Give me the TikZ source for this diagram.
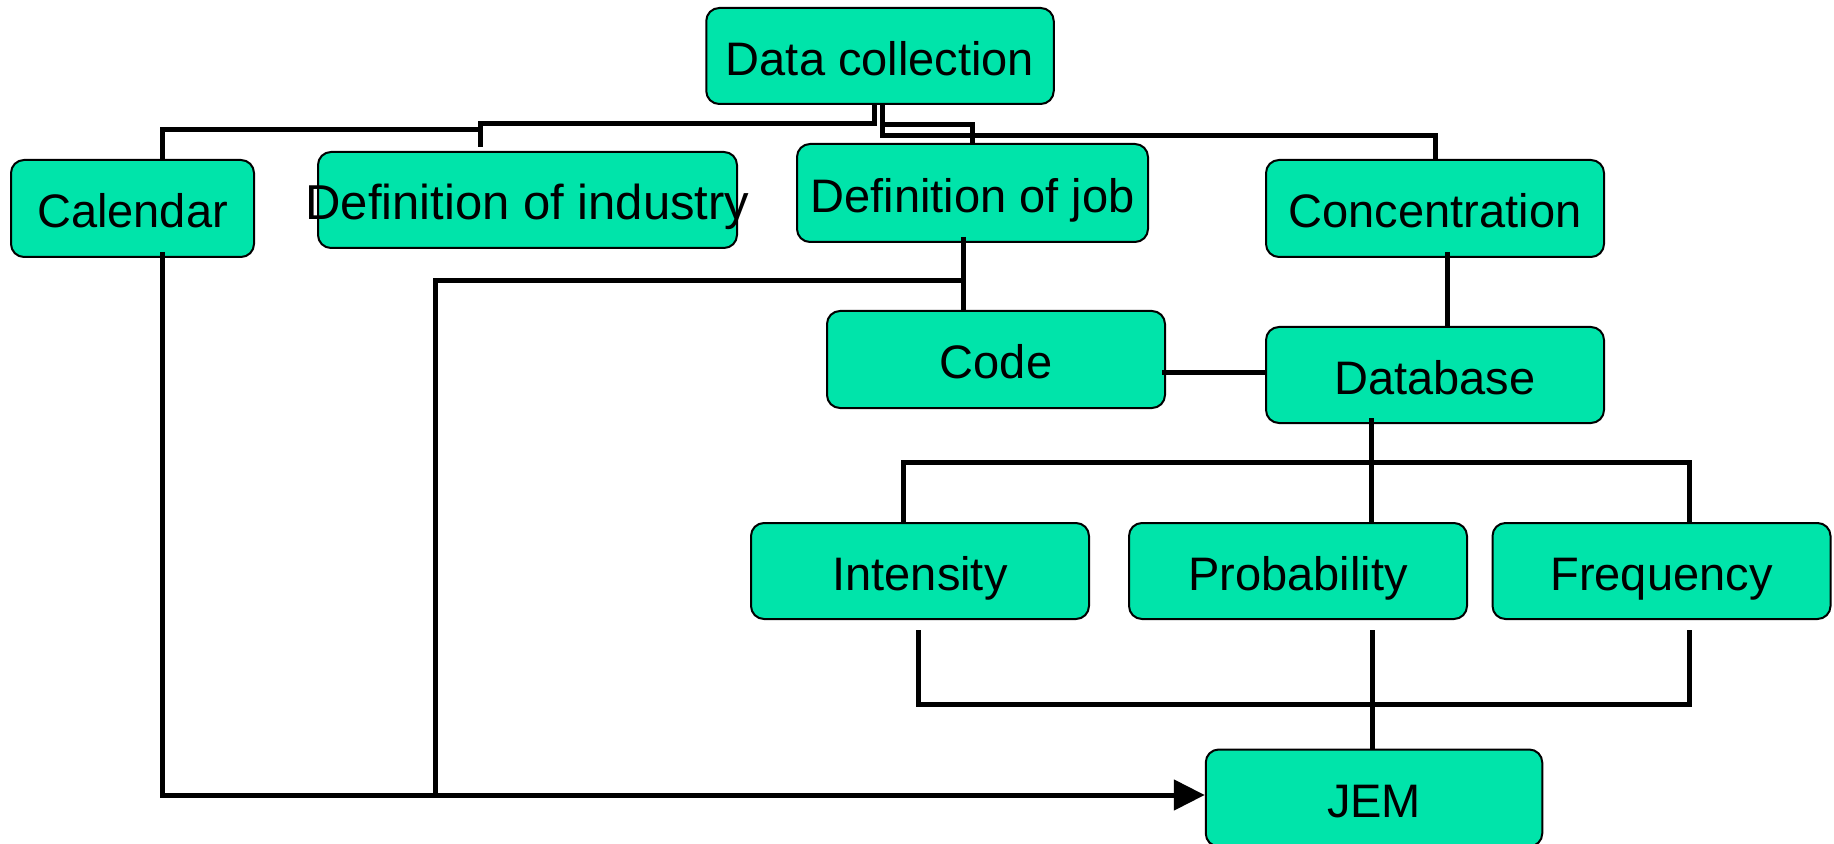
\documentclass[tikz,border=0pt]{standalone}
\usepackage{fontspec}
\setmainfont{Liberation Sans}
\usetikzlibrary{arrows.meta}

\definecolor{boxgreen}{RGB}{0,228,170}

\tikzset{
  blk/.style={draw=black, line width=1pt, fill=boxgreen, rounded corners=6.5pt,
    minimum width=169pt, minimum height=48.5pt, inner sep=0pt,
    font=\fontsize{23.5}{28}\selectfont, text height=25pt, text depth=5.9pt},
  lnk/.style={line width=2.5pt}
}

\begin{document}
\begin{tikzpicture}[x=0.5pt,y=0.5pt,yscale=-1,xscale=1]
\useasboundingbox (0,0) rectangle (1834,844);
\clip (0,0) rectangle (1834,844);
%Rounded Rect
\node[blk, minimum width=173.75pt, minimum height=48pt] (datacol) at (880,56) {Data collection};
%Rounded Rect
\node[blk, minimum width=121.5pt] (calendar) at (132.5,208.5) {Calendar};
%Rounded Rect
\node[blk, minimum width=209.5pt, minimum height=48pt] (defind) at (527.5,200) {\makebox[0pt]{\fontsize{24.5}{28}\selectfont Definition of industry}};
%Rounded Rect
\node[blk, minimum width=175.5pt, minimum height=49pt] (defjob) at (972.5,193) {Definition of job};
%Rounded Rect
\node[blk] (conc) at (1435,208.5) {Concentration};
%Rounded Rect
\node[blk] (code) at (996,359.5) {Code};
%Rounded Rect
\node[blk, minimum height=48pt] (database) at (1435,375) {Database};
%Rounded Rect
\node[blk, minimum height=48pt] (intens) at (920,571) {Intensity};
%Rounded Rect
\node[blk, minimum height=48pt] (probab) at (1298,571) {Probability};
%Rounded Rect
\node[blk, minimum height=48pt] (freq) at (1661.5,571) {Frequency};
%Rounded Rect
\node[blk, minimum width=168.25pt] (jem) at (1374,798) {JEM};

% junction points
\coordinate (dcl) at (874.5,124);
\coordinate (dcr) at (882,136);
\coordinate (jobtop) at (882,125);
\coordinate (indx) at (480,124);
\coordinate (calj) at (480,130);
\coordinate (calx) at (162,130);
\coordinate (jobj) at (963,281);
\coordinate (codej) at (435,281);
\coordinate (arry) at (700,795);
\coordinate (concx) at (1447.5,300);
\coordinate (cdy) at (1200,372);
\coordinate (dbj) at (1371.5,462);
\coordinate (intj) at (903,462);
\coordinate (frqj) at (1689.5,462);
\coordinate (intb) at (918.4,704);
\coordinate (frqb) at (1689,704);
\coordinate (prbx) at (1372.6,704);

%Straight Lines
\draw[lnk] (dcl |- datacol.south) -- (dcl) -- (indx) -- ([yshift=-2pt]indx |- defind.north);
\draw[lnk] (calj) -- (calx) -- (calx |- calendar.north);
\draw[lnk] (dcr |- datacol.south) -- (jobtop) -| (defjob.north);
\draw[lnk] (dcr |- datacol.south) -- (dcr) -| (conc.north);
%Straight Lines
\draw[lnk] ([yshift=-3pt]defjob.south -| jobj) -- (jobj |- code.north);
\draw[lnk] (jobj) -- (codej) -- (codej |- arry);
\draw[lnk, -{Triangle[length=15.5pt,width=15pt]}] ([yshift=-3pt]calendar.south -| calx) -- (calx |- arry) -- (jem.west |- arry);
%Straight Lines
\draw[lnk] ([yshift=-3pt]conc.south -| concx) -- (concx |- database.north);
\draw[lnk] ([xshift=-2pt]code.east |- cdy) -- (database.west |- cdy);
%Straight Lines
\draw[lnk] ([yshift=-3pt]database.south -| dbj) -- (dbj |- probab.north);
\draw[lnk] (intens.north -| intj) -- (intj) -- (frqj) -- (frqj |- freq.north);
%Straight Lines
\draw[lnk] ([yshift=5pt]intens.south -| intb) -- (intb) -- (frqb) -- ([yshift=5pt]freq.south -| frqb);
\draw[lnk] ([yshift=5pt]probab.south -| prbx) -- (prbx |- jem.north);
\end{tikzpicture}
\end{document}
